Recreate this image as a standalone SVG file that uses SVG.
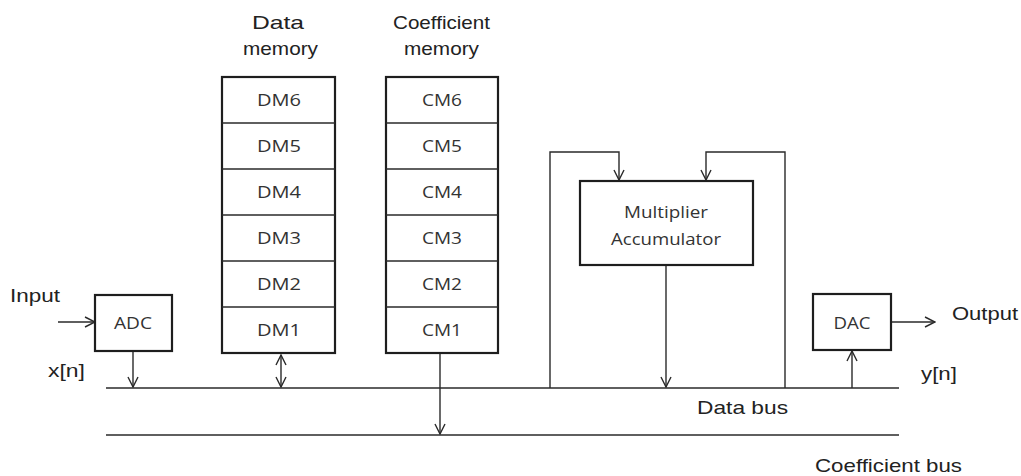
<svg xmlns="http://www.w3.org/2000/svg" width="1021" height="476" viewBox="0 0 1021 476">
<style>
.ln{stroke:#2a2a2a;stroke-width:1.4;fill:none}
.bx{stroke:#1e1e1e;stroke-width:2.2;fill:#fff}
.lb{font-family:"Liberation Sans",Arial,sans-serif;font-size:19px;fill:#222}
.bt{font-family:"Open Sans","Noto Sans",sans-serif;font-size:16px;fill:#333;text-anchor:middle}
.ar{marker-end:url(#ah)}
</style>
<defs>
<marker id="ah" viewBox="0 0 12 12" refX="11" refY="6" markerWidth="12" markerHeight="12" markerUnits="userSpaceOnUse" orient="auto-start-reverse">
<path d="M1,1 L11,6 L1,11" fill="none" stroke="#2a2a2a" stroke-width="1.4"/>
</marker>
</defs>
<rect width="1021" height="476" fill="#fff"/>
<g id="connectors">
<line class="ln" x1="106" y1="388" x2="899" y2="388"/>
<line class="ln" x1="106" y1="435" x2="899" y2="435"/>
<line class="ln ar" x1="58" y1="322" x2="95" y2="322"/>
<line class="ln ar" x1="133" y1="351" x2="133" y2="387"/>
<line class="ln ar" x1="281" y1="355" x2="281" y2="387" style="marker-start:url(#ah)"/>
<line class="ln ar" x1="440" y1="354" x2="440" y2="434"/>
<polyline class="ln ar" points="550,388 550,152 619,152 619,180"/>
<polyline class="ln ar" points="785,388 785,152 706,152 706,180"/>
<line class="ln ar" x1="666" y1="266" x2="666" y2="387"/>
<line class="ln ar" x1="852" y1="388" x2="852" y2="351"/>
<line class="ln ar" x1="891" y1="322" x2="935" y2="322"/>
</g>
<g id="adc">
<rect class="bx" x="95" y="295" width="77" height="56"/>
<text class="bt" x="133" y="329" textLength="38" lengthAdjust="spacingAndGlyphs">ADC</text>
</g>
<g id="dac">
<rect class="bx" x="813" y="294" width="78" height="56"/>
<text class="bt" x="852" y="329" textLength="37" lengthAdjust="spacingAndGlyphs">DAC</text>
</g>
<g id="mac">
<rect class="bx" x="580" y="181" width="173" height="84"/>
<text class="bt" x="666" y="218" textLength="84" lengthAdjust="spacingAndGlyphs">Multiplier</text>
<text class="bt" x="666" y="245" textLength="110" lengthAdjust="spacingAndGlyphs">Accumulator</text>
</g>
<g id="data-memory">
<rect class="bx" x="222" y="77" width="113" height="276"/>
<line class="ln" x1="222" y1="123" x2="335" y2="123"/>
<line class="ln" x1="222" y1="169" x2="335" y2="169"/>
<line class="ln" x1="222" y1="215" x2="335" y2="215"/>
<line class="ln" x1="222" y1="261" x2="335" y2="261"/>
<line class="ln" x1="222" y1="307" x2="335" y2="307"/>
<text class="bt" x="279" y="106" textLength="44" lengthAdjust="spacingAndGlyphs">DM6</text>
<text class="bt" x="279" y="152" textLength="44" lengthAdjust="spacingAndGlyphs">DM5</text>
<text class="bt" x="279" y="198" textLength="44" lengthAdjust="spacingAndGlyphs">DM4</text>
<text class="bt" x="279" y="244" textLength="44" lengthAdjust="spacingAndGlyphs">DM3</text>
<text class="bt" x="279" y="290" textLength="44" lengthAdjust="spacingAndGlyphs">DM2</text>
<text class="bt" x="279" y="336" textLength="44" lengthAdjust="spacingAndGlyphs">DM1</text>
</g>
<g id="coefficient-memory">
<rect class="bx" x="386" y="77" width="112" height="276"/>
<line class="ln" x1="386" y1="123" x2="498" y2="123"/>
<line class="ln" x1="386" y1="169" x2="498" y2="169"/>
<line class="ln" x1="386" y1="215" x2="498" y2="215"/>
<line class="ln" x1="386" y1="261" x2="498" y2="261"/>
<line class="ln" x1="386" y1="307" x2="498" y2="307"/>
<text class="bt" x="442" y="106" textLength="40" lengthAdjust="spacingAndGlyphs">CM6</text>
<text class="bt" x="442" y="152" textLength="40" lengthAdjust="spacingAndGlyphs">CM5</text>
<text class="bt" x="442" y="198" textLength="40" lengthAdjust="spacingAndGlyphs">CM4</text>
<text class="bt" x="442" y="244" textLength="40" lengthAdjust="spacingAndGlyphs">CM3</text>
<text class="bt" x="442" y="290" textLength="40" lengthAdjust="spacingAndGlyphs">CM2</text>
<text class="bt" x="442" y="336" textLength="40" lengthAdjust="spacingAndGlyphs">CM1</text>
</g>
<g id="labels">
<text class="lb" x="252" y="29" textLength="52" lengthAdjust="spacingAndGlyphs">Data</text>
<text class="lb" x="243" y="55" textLength="75" lengthAdjust="spacingAndGlyphs">memory</text>
<text class="lb" x="393" y="29" textLength="97" lengthAdjust="spacingAndGlyphs">Coefficient</text>
<text class="lb" x="404" y="55" textLength="75" lengthAdjust="spacingAndGlyphs">memory</text>
<text class="lb" x="10" y="302" textLength="50" lengthAdjust="spacingAndGlyphs">Input</text>
<text class="lb" x="48" y="377" textLength="37" lengthAdjust="spacingAndGlyphs">x[n]</text>
<text class="lb" x="952" y="320" textLength="66" lengthAdjust="spacingAndGlyphs">Output</text>
<text class="lb" x="921" y="380" textLength="36" lengthAdjust="spacingAndGlyphs">y[n]</text>
<text class="lb" x="697" y="414" textLength="91" lengthAdjust="spacingAndGlyphs">Data bus</text>
<text class="lb" x="815" y="472" textLength="147" lengthAdjust="spacingAndGlyphs">Coefficient bus</text>
</g>
</svg>
